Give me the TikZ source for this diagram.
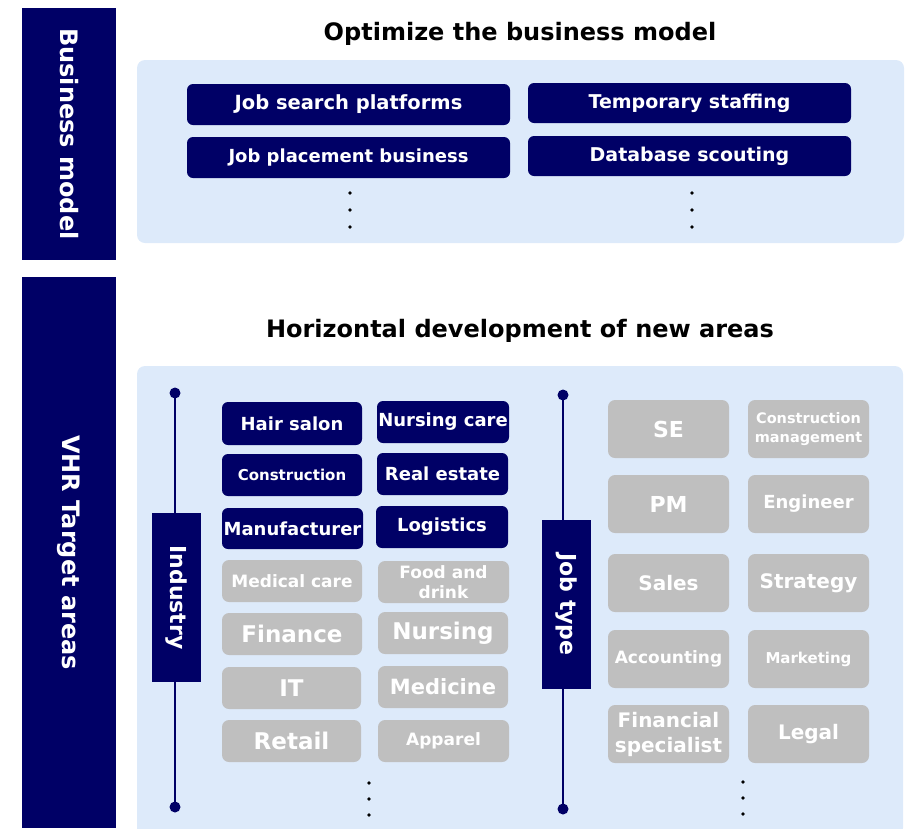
\documentclass[tikz,border=0pt]{standalone}
\usepackage{fontspec}
\setmainfont{DejaVu Sans}
\definecolor{navy}{RGB}{0,0,102}
\definecolor{panel}{RGB}{221,234,250}
\definecolor{grayb}{RGB}{191,191,191}
\begin{document}
\begin{tikzpicture}[x=1pt,y=-1pt,
  fs/.style 2 args={font=\bfseries\fontsize{#1}{#2}\selectfont},
  bar/.style={fill=navy,text=white,inner sep=0pt,rotate=-90},
  pnl/.style={fill=panel,rounded corners=8pt},
  nbox/.style={fill=navy,text=white,rounded corners=6pt,inner sep=0pt,align=center},
  gbox/.style={fill=grayb,text=white,rounded corners=7pt,inner sep=0pt,align=center},
  title/.style={text=black,inner sep=0pt},
  sdot/.style={circle,fill=black,inner sep=0pt,minimum size=3.8pt},
  edot/.style={circle,fill=navy,inner sep=0pt,minimum size=11pt},
  axis/.style={draw=navy,line width=1.8pt}]
\useasboundingbox (0,0) rectangle (909,828);
% left bars
\node[bar,fs={24}{28},minimum width=252,minimum height=94] (bm) at (69,134) {Business model};
\node[bar,fs={24}{28},minimum width=551,minimum height=94] (vhr) at (69,552.5) {VHR Target areas};
% titles
\node[title,fs={24}{28}] (t1) at (520,34) {Optimize the business model};
\node[title,fs={24}{28}] (t2) at (520,331) {Horizontal development of new areas};
% panels
\fill[pnl] (137,60) rectangle (904,243);
\fill[pnl] (137,366) rectangle (903,836);
% business model boxes
\node[nbox,fs={19.5}{22},minimum width=323,minimum height=41] (b1) at (348.5,104.5) {Job search platforms};
\node[nbox,fs={19}{22},minimum width=323,minimum height=40] (b2) at (689.5,103) {Temporary staffing};
\node[nbox,fs={18}{22},minimum width=323,minimum height=41] (b3) at (348.5,157.5) {Job placement business};
\node[nbox,fs={19}{22},minimum width=323,minimum height=40] (b4) at (689.5,156) {Database scouting};
\node[sdot] (d1) at (350,193) {}; \node[sdot] (d2) at (350,210) {}; \node[sdot] (d3) at (350,227) {};
\node[sdot] (d4) at (692,193) {}; \node[sdot] (d5) at (692,210) {}; \node[sdot] (d6) at (692,227) {};
% industry axis
\node[edot] (it) at (175,393) {};
\node[edot] (ibt) at (175,807) {};
\draw[axis] (it.center) -- (ibt.center);
\node[bar,fs={22}{26},minimum width=169,minimum height=49] (ind) at (176.5,597.5) {Industry};
% industry boxes col1 (x 222-362)
\node[nbox,fs={18}{22},minimum width=140,minimum height=43] (i1) at (292,423.5) {Hair salon};
\node[nbox,fs={15}{18},minimum width=140,minimum height=42] (i2) at (292,475) {Construction};
\node[nbox,fs={18}{22},minimum width=141,minimum height=41] (i3) at (292.5,528.5) {Manufacturer};
\node[gbox,fs={17}{20},minimum width=140,minimum height=42] (i4) at (292,581) {Medical care};
\node[gbox,fs={23}{26},minimum width=140,minimum height=42] (i5) at (292,634) {Finance};
\node[gbox,fs={23}{26},minimum width=139,minimum height=42] (i6) at (291.5,688) {IT};
\node[gbox,fs={23}{26},minimum width=139,minimum height=42] (i7) at (291.5,741) {Retail};
% col2 (x 377-509)
\node[nbox,fs={18}{22},minimum width=132,minimum height=42] (j1) at (443,422) {Nursing care};
\node[nbox,fs={18}{22},minimum width=131,minimum height=42] (j2) at (442.5,474) {Real estate};
\node[nbox,fs={18}{22},minimum width=132,minimum height=42] (j3) at (442,527) {Logistics};
\node[gbox,fs={17}{20},minimum width=131,minimum height=42] (j4) at (443.5,582) {Food and\\drink};
\node[gbox,fs={23}{26},minimum width=130,minimum height=42] (j5) at (443,633) {Nursing};
\node[gbox,fs={21}{24},minimum width=130,minimum height=42] (j6) at (443,687) {Medicine};
\node[gbox,fs={17}{20},minimum width=131,minimum height=42] (j7) at (443.5,741) {Apparel};
\node[sdot] (e1) at (369,783) {}; \node[sdot] (e2) at (369,799) {}; \node[sdot] (e3) at (369,815) {};
% job type axis
\node[edot] (jt) at (563,395) {};
\node[edot] (jbt) at (563,809) {};
\draw[axis] (jt.center) -- (jbt.center);
\node[bar,fs={22}{26},minimum width=169,minimum height=49] (job) at (566.5,604.5) {Job type};
% job boxes col1 (608-729)
\node[gbox,fs={22}{26},minimum width=121,minimum height=58] (k1) at (668.5,429) {SE};
\node[gbox,fs={22}{26},minimum width=121,minimum height=58] (k2) at (668.5,504) {PM};
\node[gbox,fs={20}{24},minimum width=121,minimum height=58] (k3) at (668.5,583) {Sales};
\node[gbox,fs={17}{20},minimum width=121,minimum height=58] (k4) at (668.5,659) {Accounting};
\node[gbox,fs={20}{25},minimum width=121,minimum height=58] (k5) at (668.5,734) {Financial\\specialist};
% job boxes col2 (748-869)
\node[gbox,fs={14.5}{19},minimum width=121,minimum height=58] (m1) at (808.5,429) {Construction\\management};
\node[gbox,fs={18}{22},minimum width=121,minimum height=58] (m2) at (808.5,504) {Engineer};
\node[gbox,fs={20}{24},minimum width=121,minimum height=58] (m3) at (808.5,583) {Strategy};
\node[gbox,fs={15}{18},minimum width=121,minimum height=58] (m4) at (808.5,659) {Marketing};
\node[gbox,fs={20}{24},minimum width=121,minimum height=58] (m5) at (808.5,734) {Legal};
\node[sdot] (f1) at (743,782) {}; \node[sdot] (f2) at (743,798) {}; \node[sdot] (f3) at (743,814) {};
\end{tikzpicture}
\end{document}
